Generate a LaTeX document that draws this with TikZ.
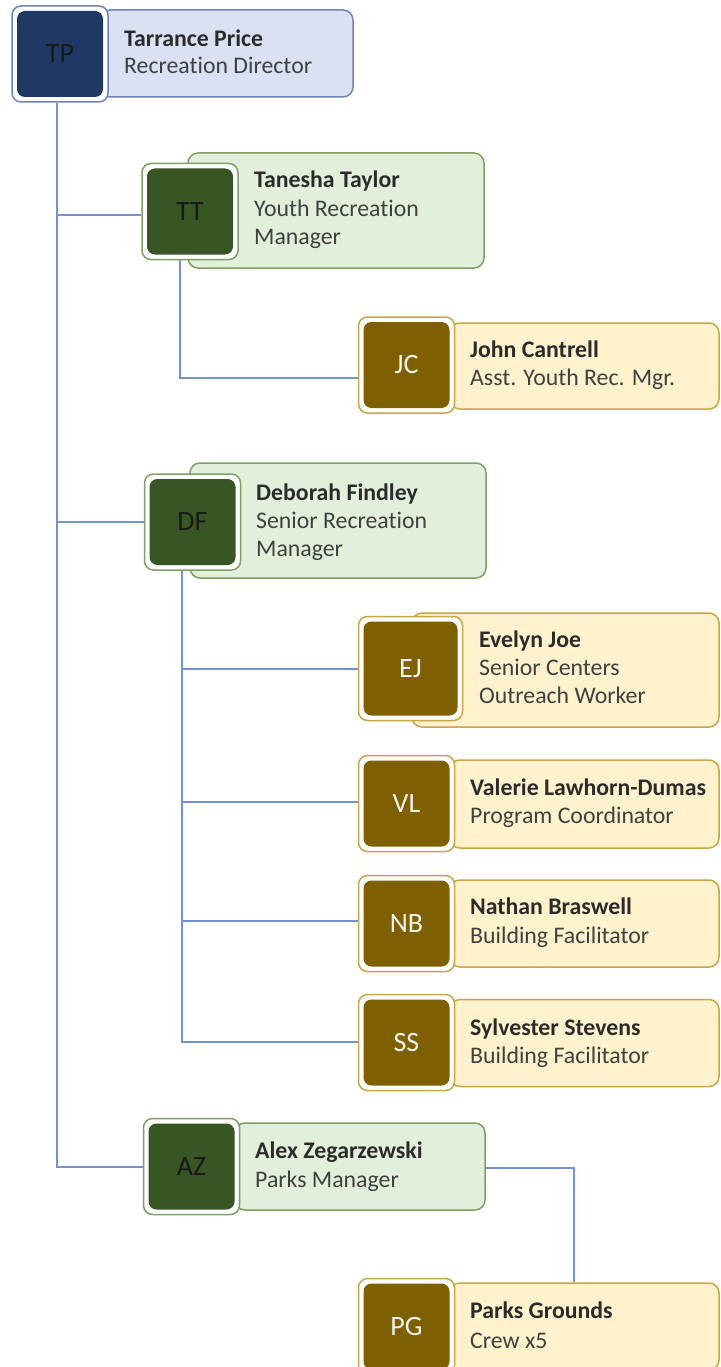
\documentclass[tikz,border=0pt]{standalone}
\usepackage{fontspec}
\setmainfont{Carlito}[Ligatures=NoCommon]
\usetikzlibrary{backgrounds}
\definecolor{conncol}{HTML}{7392D4}
\definecolor{bluefill}{HTML}{DAE1F3}
\definecolor{blueline}{HTML}{6F84B8}
\definecolor{bluedark}{HTML}{1F3864}
\definecolor{greenfill}{HTML}{E2EFDA}
\definecolor{greenline}{HTML}{7E9F66}
\definecolor{greendark}{HTML}{375623}
\definecolor{goldfill}{HTML}{FFF2CC}
\definecolor{goldline}{HTML}{C8A545}
\definecolor{golddark}{HTML}{7F6000}
\definecolor{namecol}{HTML}{2B2B2B}
\definecolor{titlecol}{HTML}{404040}
\tikzset{
  x=1pt, y=-1pt,
  conn/.style={draw=conncol, line width=2pt},
  pbox/.style={rectangle, rounded corners=10pt, line width=1.5pt, inner sep=0pt},
  bluebox/.style={pbox, fill=bluefill, draw=blueline},
  greenbox/.style={pbox, fill=greenfill, draw=greenline},
  goldbox/.style={pbox, fill=goldfill, draw=goldline},
  osq/.style={rectangle, rounded corners=9pt, line width=1.5pt, fill=white, minimum size=96pt, inner sep=0pt},
  isq/.style={rectangle, rounded corners=8pt, minimum size=86pt, inner sep=0pt, font=\fontsize{28}{30}\selectfont},
  blueosq/.style={osq, draw=blueline},
  greenosq/.style={osq, draw=greenline},
  goldosq/.style={osq, draw=goldline},
  blueisq/.style={isq, fill=bluedark, text=black!90},
  greenisq/.style={isq, fill=greendark, text=black!90},
  goldisq/.style={isq, fill=golddark, text=white!95!black},
  nm/.style={anchor=base west, inner sep=0pt, text=namecol, font=\fontsize{23.8}{28}\selectfont\bfseries},
  ttl/.style={anchor=base west, inner sep=0pt, text=titlecol, font=\fontsize{23.8}{28}\selectfont},
}
\begin{document}
\begin{tikzpicture}
\path[use as bounding box] (0,0) rectangle (720,1367);

% ---------- TP
\node[bluebox, minimum width=253pt, minimum height=87pt] (TPb) at (226.5,53.5) {};
\node[blueosq] (TP) at (60,54) {};
\node[blueisq] (TPi) at (TP) {TP};
\node[nm] (TPn) at (124,47) {Tarrance Price};
\node[ttl] (TPt) at (124,73.5) {Recreation Director};

% ---------- TT
\node[greenbox, minimum width=296pt, minimum height=115pt] (TTb) at (336,210.5) {};
\node[greenosq] (TT) at (190,211.5) {};
\node[greenisq] (TTi) at (TT) {TT};
\node[nm] (TTn) at (254,188) {Tanesha Taylor};
\node[ttl] (TTt1) at (254,216) {Youth Recreation};
\node[ttl] (TTt2) at (254,244) {Manager};

% ---------- JC
\node[goldbox, minimum width=269pt, minimum height=86pt] (JCb) at (584.5,366) {};
\node[goldosq] (JC) at (406.5,365) {};
\node[goldisq] (JCi) at (JC) {JC};
\node[nm] (JCn) at (470,357.5) {John Cantrell};
\node[ttl] (JCt) at (470,385) {Asst. Youth Rec. Mgr.};

% ---------- DF
\node[greenbox, minimum width=296pt, minimum height=115pt] (DFb) at (338,520.5) {};
\node[greenosq] (DF) at (192.5,522) {};
\node[greenisq] (DFi) at (DF) {DF};
\node[nm] (DFn) at (256,500) {Deborah Findley};
\node[ttl] (DFt1) at (256,528) {Senior Recreation};
\node[ttl] (DFt2) at (256,556) {Manager};

% ---------- EJ
\node[goldbox, minimum width=307pt, minimum height=114pt] (EJb) at (565.5,670) {};
\node[goldosq, minimum size=104pt] (EJ) at (410.5,668.5) {};
\node[goldisq, minimum size=94pt] (EJi) at (EJ) {EJ};
\node[nm] (EJn) at (479,647) {Evelyn Joe};
\node[ttl] (EJt1) at (479,675.5) {Senior Centers};
\node[ttl] (EJt2) at (479,703) {Outreach Worker};

% ---------- VL
\node[goldbox, minimum width=269pt, minimum height=88pt] (VLb) at (584.5,804) {};
\node[goldosq] (VL) at (406.5,803.5) {};
\node[goldisq] (VLi) at (VL) {VL};
\node[nm] (VLn) at (470,795) {Valerie Lawhorn-Dumas};
\node[ttl] (VLt) at (470,823) {Program Coordinator};

% ---------- NB
\node[goldbox, minimum width=269pt, minimum height=87pt] (NBb) at (584.5,923.5) {};
\node[goldosq] (NB) at (406.5,923.5) {};
\node[goldisq] (NBi) at (NB) {NB};
\node[nm] (NBn) at (470,914) {Nathan Braswell};
\node[ttl] (NBt) at (470,943) {Building Facilitator};

% ---------- SS
\node[goldbox, minimum width=269pt, minimum height=87pt] (SSb) at (584.5,1043) {};
\node[goldosq] (SS) at (406.5,1042.5) {};
\node[goldisq] (SSi) at (SS) {SS};
\node[nm] (SSn) at (470,1035) {Sylvester Stevens};
\node[ttl] (SSt) at (470,1063) {Building Facilitator};

% ---------- AZ
\node[greenbox, minimum width=250pt, minimum height=87pt] (AZb) at (360,1166.5) {};
\node[greenosq] (AZ) at (191.5,1166.5) {};
\node[greenisq] (AZi) at (AZ) {AZ};
\node[nm] (AZn) at (255,1158) {Alex Zegarzewski};
\node[ttl] (AZt) at (255,1187) {Parks Manager};

% ---------- PG
\node[goldbox, minimum width=269pt, minimum height=87pt] (PGb) at (584.5,1326.5) {};
\node[goldosq] (PG) at (406.5,1326.5) {};
\node[goldisq] (PGi) at (PG) {PG};
\node[nm] (PGn) at (470,1318) {Parks Grounds};
\node[ttl] (PGt) at (470,1348) {Crew x5};

% ---------- connectors
\coordinate (jTT) at (57,215);
\coordinate (jDF) at (57,522);
\coordinate (jAZ) at (57,1167);
\coordinate (jJC) at (180,378);
\coordinate (kEJ) at (182,669);
\coordinate (kVL) at (182,802);
\coordinate (kNB) at (182,921);
\coordinate (kSS) at (182,1042);
\coordinate (jPG) at (574,1168);
\begin{scope}[on background layer]
\fill[white] (0,0) rectangle (720,1367);
\draw[conn] (TP.south -| jAZ) -- (jAZ) -- (jAZ -| AZ.west);
\draw[conn] (jTT) -- (jTT -| TT.west);
\draw[conn] (jDF) -- (jDF -| DF.west);
\draw[conn] (TT.south -| jJC) -- (jJC) -- (jJC -| JC.west);
\draw[conn] (DF.south -| kSS) -- (kSS) -- (kSS -| SS.west);
\draw[conn] (kEJ) -- (kEJ -| EJ.west);
\draw[conn] (kVL) -- (kVL -| VL.west);
\draw[conn] (kNB) -- (kNB -| NB.west);
\draw[conn] (AZb.east |- jPG) -- (jPG) -- (jPG |- PGb.north);
\end{scope}
\end{tikzpicture}
\end{document}
